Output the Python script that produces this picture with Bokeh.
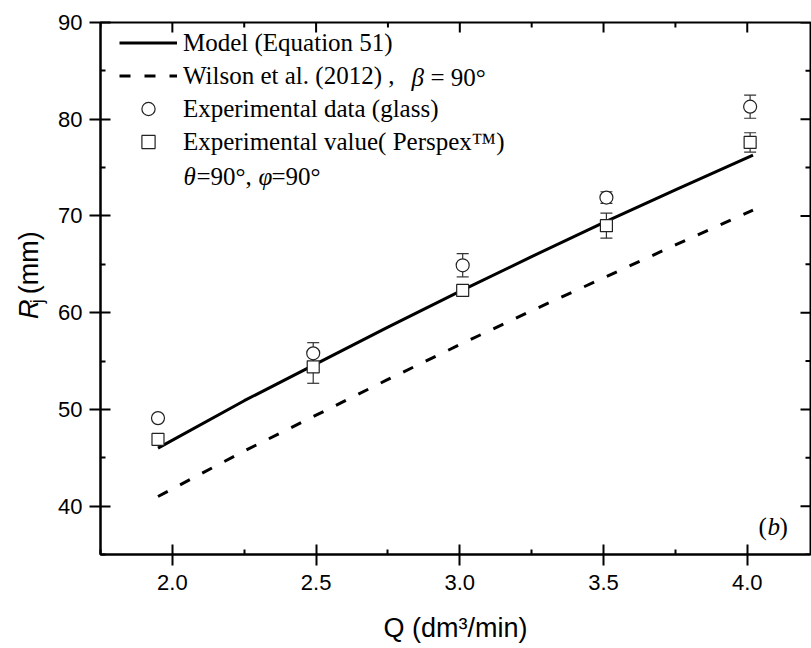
import math
from bokeh.plotting import figure
from bokeh.layouts import row
from bokeh.models import (Range1d, LinearAxis, Whisker, TeeHead, ColumnDataSource,
                          Legend, LegendItem, Label, FixedTicker, PrintfTickFormatter)
from bokeh.embed import file_html
from bokeh.resources import INLINE

# ---- data ----
q_exp = [1.95, 2.49, 3.01, 3.51, 4.01]
r_glass = [49.1, 55.8, 64.9, 71.9, 81.3]
err_glass = [0.3, 1.1, 1.2, 0.6, 1.2]
r_perspex = [46.9, 54.4, 62.3, 69.0, 77.6]
err_perspex = [0.3, 1.7, 0.3, 1.3, 1.0]

q_curve = [1.95, 2.25, 2.5, 2.75, 3.0, 3.25, 3.5, 3.75, 4.02]
r_model = [46.0, 50.9, 54.7, 58.5, 62.2, 65.8, 69.3, 72.7, 76.3]
r_wilson = [41.0, 45.7, 49.4, 53.1, 56.7, 60.2, 63.6, 67.0, 70.6]

x_ticks = [2.0, 2.5, 3.0, 3.5, 4.0]
x_minor = [1.75, 2.25, 2.75, 3.25, 3.75]
y_ticks = [40, 50, 60, 70, 80, 90]
y_minor = [35, 45, 55, 65, 75, 85]

X0, X1 = 1.75, 4.22
Y0, Y1 = 35, 90

SERIF = "Liberation Serif"
SANS = "Liberation Sans"

LAB_W = 48
FRAME_W, FRAME_H = 710, 532

p = figure(width=811 - LAB_W, height=648, output_backend="svg", toolbar_location=None,
           x_range=Range1d(X0, X1), y_range=Range1d(Y0, Y1),
           min_border_left=100 - LAB_W, min_border_right=1, min_border_top=22,
           min_border_bottom=94, x_axis_location=None, y_axis_location=None)
p.grid.visible = False
p.outline_line_color = "black"
p.outline_line_width = 2
p.background_fill_color = "white"
p.border_fill_color = "white"


def style_axis(ax):
    ax.axis_line_width = 2
    ax.axis_line_color = "black"
    ax.major_tick_line_width = 2
    ax.minor_tick_line_width = 2
    ax.major_tick_line_color = "black"
    ax.minor_tick_line_color = "black"
    ax.major_tick_in = 10
    ax.major_tick_out = 11
    ax.minor_tick_in = 5
    ax.minor_tick_out = 0
    ax.major_label_text_font = SANS
    ax.major_label_text_font_size = "22px"
    ax.major_label_text_color = "black"


xb = LinearAxis(ticker=FixedTicker(ticks=x_ticks, minor_ticks=x_minor),
                formatter=PrintfTickFormatter(format="%.1f"))
style_axis(xb)
xb.major_label_standoff = 9
xb.axis_label = "Q (dm³/min)"
xb.axis_label_text_font = SANS
xb.axis_label_text_font_size = "27px"
xb.axis_label_text_font_style = "normal"
xb.axis_label_text_color = "black"
xb.axis_label_standoff = 20
p.add_layout(xb, "below")

yl = LinearAxis(ticker=FixedTicker(ticks=y_ticks, minor_ticks=y_minor))
style_axis(yl)
yl.major_label_standoff = 7
p.add_layout(yl, "left")

# inward ticks on the top and right frame edges (lengths in px converted to data units)
dx = (X1 - X0) / FRAME_W
dy = (Y1 - Y0) / FRAME_H
for ticks, ln in ((x_ticks, 10), (x_minor, 5)):
    p.segment(x0=ticks, y0=[Y1] * len(ticks), x1=ticks, y1=[Y1 - ln * dy] * len(ticks),
              line_color="black", line_width=2)
for ticks, ln in ((y_ticks, 10), (y_minor, 5)):
    p.segment(x0=[X1] * len(ticks), y0=ticks, x1=[X1 - ln * dx] * len(ticks), y1=ticks,
              line_color="black", line_width=2)

# ---- error bars ----
src_g = ColumnDataSource(dict(q=q_exp, r=r_glass,
                              lo=[r - e for r, e in zip(r_glass, err_glass)],
                              hi=[r + e for r, e in zip(r_glass, err_glass)]))
src_p = ColumnDataSource(dict(q=q_exp, r=r_perspex,
                              lo=[r - e for r, e in zip(r_perspex, err_perspex)],
                              hi=[r + e for r, e in zip(r_perspex, err_perspex)]))
for src in (src_g, src_p):
    w = Whisker(base="q", lower="lo", upper="hi", source=src, dimension="height",
                line_color="#333333", line_width=1.2,
                upper_head=TeeHead(size=12, line_color="#333333", line_width=1.2),
                lower_head=TeeHead(size=12, line_color="#333333", line_width=1.2))
    p.add_layout(w)

# ---- curves ----
r_mod = p.line(q_curve, r_model, line_color="black", line_width=3)
r_wil = p.line(q_curve, r_wilson, line_color="black", line_width=3, line_dash="11 14")

# ---- markers ----
r_gl = p.scatter("q", "r", source=src_g, marker="circle", size=13,
                 fill_color="white", line_color="#222222", line_width=1.2)
r_pe = p.scatter("q", "r", source=src_p, marker="square", size=12,
                 fill_color="white", line_color="#222222", line_width=1.2)

legend = Legend(items=[
    LegendItem(label="Model (Equation 51)", renderers=[r_mod]),
    LegendItem(label="Wilson et al. (2012) ,", renderers=[r_wil]),
    LegendItem(label="Experimental data (glass)", renderers=[r_gl]),
    LegendItem(label="Experimental value( Perspex™)", renderers=[r_pe]),
], location=(19, 396), orientation="vertical",
    glyph_width=58, glyph_height=33, label_height=33, label_standoff=6,
    spacing=0, padding=0, margin=0,
    border_line_color=None, background_fill_alpha=0,
    label_text_font=SERIF, label_text_font_size="25px", label_text_color="black")
p.add_layout(legend)


def lab(fig, x, y, text, size="25px", font=SERIF, style="normal", angle=0.0,
        units="screen"):
    fig.add_layout(Label(x=x, y=y, x_units=units, y_units=units, text=text,
                         text_font=font, text_font_size=size, text_font_style=style,
                         text_color="black", text_baseline="middle", text_align="left",
                         angle=angle))


# beta part of the Wilson entry (frame-relative screen coordinates)
lab(p, 311, 477, "β", style="italic")
lab(p, 330, 477, "= 90°")
# angle row
lab(p, 83, 378, "θ", style="italic")
lab(p, 96, 378, "=90°,")
lab(p, 158, 378, "φ", style="italic")
lab(p, 171, 378, "=90°")
# panel tag
lab(p, 658, 28, "(")
lab(p, 667, 28, "b", style="italic")
lab(p, 679, 28, ")")

# ---- narrow strip holding the y-axis title ----
t = figure(width=LAB_W, height=648, output_backend="svg", toolbar_location=None,
           x_range=Range1d(0, LAB_W), y_range=Range1d(0, 648),
           min_border=0, min_border_left=0, min_border_right=0,
           min_border_top=0, min_border_bottom=0,
           x_axis_location=None, y_axis_location=None)
t.grid.visible = False
t.outline_line_color = None
t.background_fill_color = "white"
t.border_fill_color = "white"
lab(t, 28, 287, "R", size="27px", font=SANS, style="italic", angle=math.pi / 2, units="data")
lab(t, 36, 306, "j", size="18px", font=SANS, angle=math.pi / 2, units="data")
lab(t, 28, 317, "(mm)", size="27px", font=SANS, angle=math.pi / 2, units="data")

layout = row(t, p, spacing=0)
open("out.html", "w").write(file_html(layout, INLINE))
